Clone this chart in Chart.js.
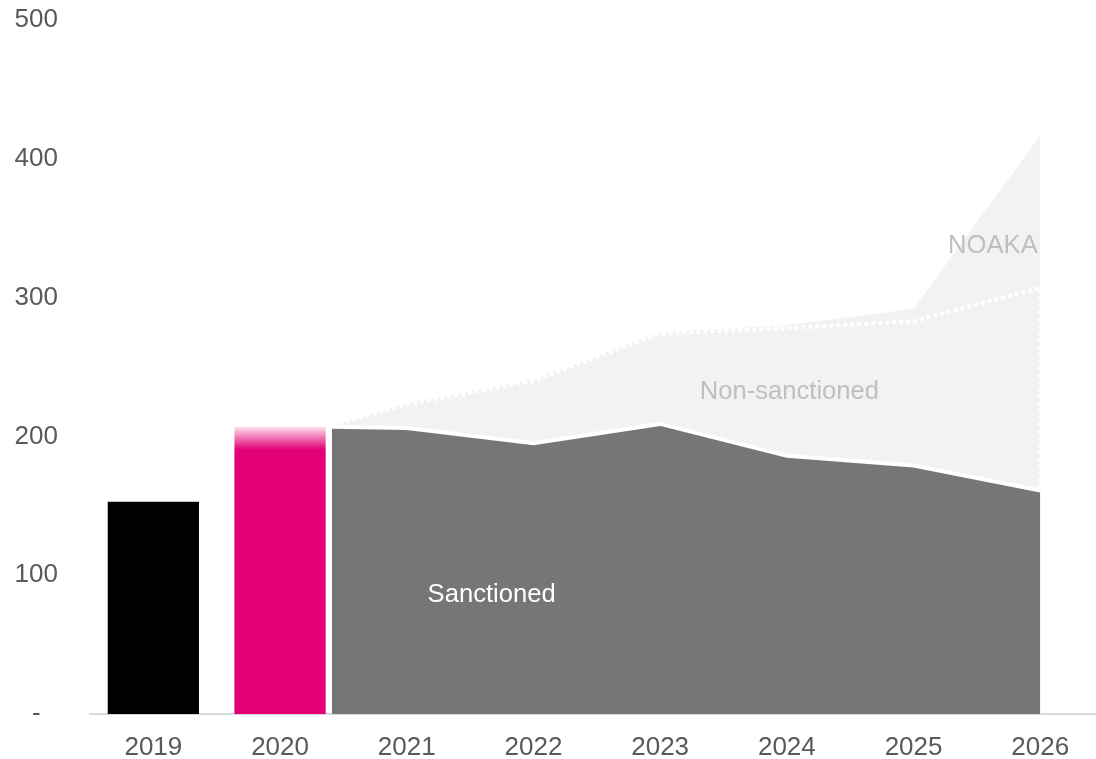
<!DOCTYPE html>
<html>
<head>
<meta charset="utf-8">
<script src="https://cdn.jsdelivr.net/npm/chart.js@4"></script>
<style>
    html, body { margin: 0; padding: 0; background: #ffffff; overflow: hidden; }
    #wrap { width: 1096px; height: 759px; }
</style>
</head>
<body>
<div id="wrap"><canvas id="chart"></canvas></div>
<script>
// Years on the x axis
const years = [2019, 2020, 2021, 2022, 2023, 2024, 2025, 2026];
const yTicks = [0, 100, 200, 300, 400, 500];

// Actuals (bars)
const actualYears = [2019, 2020];
const actualValues = [153, 207];

// Outlook (areas), first point starts just right of the 2020 bar
const outlookYears = [2020.41, 2021, 2022, 2023, 2024, 2025, 2026];
const sanctioned = [207, 206, 195, 209, 186, 179, 161];
const nonSanctioned = [208, 223, 240, 274, 278, 283, 307];
const noaka = [208, 224, 241, 275, 280, 292, 417];

// In-chart labels
const noteTexts = ['Sanctioned', 'Non-sanctioned', 'NOAKA'];
const noteYears = [2021.67, 2024.02, 2025.98];
const noteValues = [85.5, 232, 337.5];

const toPoints = (xs, ys) => xs.map((x, i) => ({ x: x, y: ys[i] }));

// dotted line goes down the right edge to the sanctioned line
const dottedPoints = toPoints(outlookYears, nonSanctioned);
dottedPoints.push({ x: outlookYears[outlookYears.length - 1], y: sanctioned[sanctioned.length - 1] });

const notesPlugin = {
    id: 'notes',
    afterDatasetsDraw(chart) {
        const ctx = chart.ctx;
        const x = chart.scales.x, y = chart.scales.y;
        const colors = ['#ffffff', '#bfbfbf', '#bfbfbf'];
        const aligns = ['center', 'center', 'right'];
        ctx.save();
        ctx.font = '25.6px "Liberation Sans", Arial, sans-serif';
        ctx.textBaseline = 'middle';
        noteTexts.forEach((t, i) => {
            ctx.fillStyle = colors[i];
            ctx.textAlign = aligns[i];
            ctx.fillText(t, x.getPixelForValue(noteYears[i]), y.getPixelForValue(noteValues[i]));
        });
        ctx.restore();
    }
};

function barColor(context) {
    if (context.dataIndex === 0) return '#000000';
    const chart = context.chart;
    if (!chart.chartArea) return '#e20074';
    const y = chart.scales.y;
    const top = y.getPixelForValue(actualValues[1]);
    const g = chart.ctx.createLinearGradient(0, top, 0, top + 23);
    g.addColorStop(0, 'rgba(226,0,116,0.12)');
    g.addColorStop(1, 'rgba(226,0,116,1)');
    return g;
}

const axisFont = { family: '"Liberation Sans", Arial, sans-serif', size: 26, lineHeight: 1 };

new Chart(document.getElementById('chart'), {
    type: 'bar',
    data: {
        datasets: [
            {
                type: 'bar',
                data: toPoints(actualYears, actualValues),
                backgroundColor: barColor,
                borderWidth: 0,
                order: 1
            },
            {
                type: 'line',
                data: dottedPoints,
                borderColor: '#ffffff',
                borderWidth: 4,
                borderDash: [4, 3],
                fill: false,
                pointRadius: 0,
                tension: 0,
                order: 2
            },
            {
                type: 'line',
                data: toPoints(outlookYears, sanctioned),
                borderColor: '#ffffff',
                borderWidth: 4,
                backgroundColor: '#767676',
                fill: 'origin',
                pointRadius: 0,
                tension: 0,
                order: 3
            },
            {
                type: 'line',
                data: toPoints(outlookYears, noaka),
                borderColor: 'transparent',
                backgroundColor: '#f2f2f2',
                fill: 'origin',
                pointRadius: 0,
                tension: 0,
                order: 4
            }
        ]
    },
    options: {
        responsive: true,
        maintainAspectRatio: false,
        animation: false,
        layout: { padding: { top: 20, left: 0, right: 0, bottom: 0 } },
        plugins: {
            legend: { display: false },
            tooltip: { enabled: false }
        },
        scales: {
            x: {
                type: 'linear',
                min: 2018.5,
                max: 2026.44,
                offset: false,
                afterBuildTicks: (axis) => { axis.ticks = years.map(v => ({ value: v })); },
                afterFit: (axis) => {
                    axis.height = 45;
                    axis.paddingLeft = 0;
                    axis.paddingRight = 0;
                },
                grid: { display: false, drawTicks: false },
                border: { display: true, color: '#d9d9d9', width: 2 },
                ticks: {
                    autoSkip: false,
                    maxRotation: 0,
                    padding: 21,
                    color: '#595959',
                    font: axisFont,
                    callback: (v) => String(v)
                }
            },
            y: {
                min: 0,
                max: 500,
                afterBuildTicks: (axis) => { axis.ticks = yTicks.map(v => ({ value: v })); },
                afterFit: (axis) => {
                    axis.width = 90;
                    axis.paddingTop = 0;
                    axis.paddingBottom = 0;
                },
                grid: { display: false, drawTicks: false },
                border: { display: false },
                ticks: {
                    crossAlign: 'center',
                    padding: 32,
                    color: '#595959',
                    font: axisFont,
                    callback: (v) => v === 0 ? '-' : String(v)
                }
            }
        }
    },
    plugins: [notesPlugin]
});
</script>
</body>
</html>
